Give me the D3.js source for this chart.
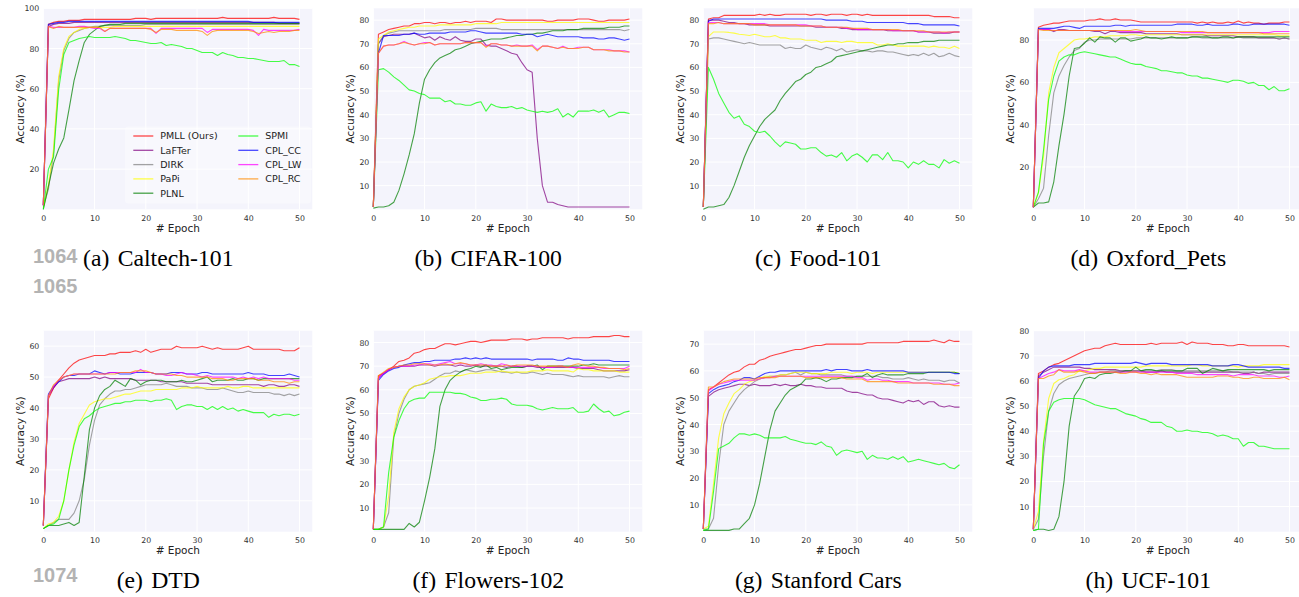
<!DOCTYPE html>
<html lang="en">
<head>
<meta charset="UTF-8">
<title>Accuracy per epoch</title>
<script src="https://cdn.jsdelivr.net/npm/d3@7"></script>
<style>
  body { margin: 0; background: #fff; }
  svg { display: block; font-family: 'DejaVu Sans', sans-serif; }
  .tick text { fill: #333; font-size: 7.8px; font-family: 'DejaVu Sans', sans-serif; }
  .axis-label { fill: #222; font-size: 10.5px; }
  .legend text { fill: #222; font-size: 9.5px; }
  .caption { font-family: 'Liberation Serif', 'Times New Roman', serif; font-size: 23.7px; fill: #000; }
  .lineno { font-family: 'Liberation Sans', Arial, sans-serif; font-weight: bold; font-size: 20px; fill: #b3b3b3; }
</style>
</head>
<body>
<svg id="chart" width="1299" height="597"></svg>
<script>
// ---- data: accuracy (%) per epoch 0..50, series in legend order ----
const methods = ['PMLL (Ours)', 'LaFTer', 'DIRK', 'PaPi', 'PLNL', 'SPMI', 'CPL_CC', 'CPL_LW', 'CPL_RC'];
const methodColors = ['#ff0000', '#800080', '#808080', '#ffff00', '#008000', '#00ff00', '#0000ff', '#ff00ff', '#ff8c00'];
const subLetters = ['(a)', '(b)', '(c)', '(d)', '(e)', '(f)', '(g)', '(h)'];
const datasetNames = ['Caltech-101', 'CIFAR-100', 'Food-101', 'Oxford_Pets', 'DTD', 'Flowers-102', 'Stanford Cars', 'UCF-101'];
const yMaxes = [100, 85, 85, 95, 65, 85, 75, 80];
const yTickSets = [
  [20, 40, 60, 80, 100],
  [10, 20, 30, 40, 50, 60, 70, 80],
  [10, 20, 30, 40, 50, 60, 70, 80],
  [20, 40, 60, 80],
  [10, 20, 30, 40, 50, 60],
  [10, 20, 30, 40, 50, 60, 70, 80],
  [10, 20, 30, 40, 50, 60, 70],
  [10, 20, 30, 40, 50, 60, 70, 80]
];
const xTickValues = [0, 10, 20, 30, 40, 50];
const lineNumbers = [['1064', 263], ['1065', 292.5], ['1074', 581.5]];

const caltechAcc = [
  [2,92,93,93.5,93.5,94,94,94,94.5,94.5, 94.5,94.5,94.5,94.5,94.5,94.5,94.5,94.5,95,95, 95,94.5,95,95,95,95,95,95,95,95, 95,95,95,95,95,95.5,95,95,95,95, 95,95,95,95,95,95.5,95,95,95,95, 94.5],
  [2,91,92,92.5,92.5,92.5,93,93,93,93, 93,93,93,93,93,93,93,93,93,93, 93,93,93,93,93,93,93,93,93,93, 93,93,93,93,93,93,93,93,93,93, 93,93,93,93,93,93,92.5,92.5,92.5,92.5, 92.5],
  [1,10,28,64,79,85,88,89,90,90.5, 91,91,91.5,91.5,91.5,91.5,91.5,91.5,91.5,91.5, 92,92,92,92,92,92,92,92,92,92, 92,92,92,92,92,92,92,92,92,92, 92,92,92,92,92,92,92,92,92,92, 92],
  [1,12,30,66,80,86,88,89.5,90,90.5, 90.5,90.5,90.5,90.5,91,91,91,91,91,91, 91,91,91,91,91,91,91,91,91,91, 91,91,91,91,91,91,91,91,91,91, 91,91,91,91,91,91,91,91,91,91, 91],
  [0,11.5,23,30,35.5,49.5,64,74,83,87, 89,91,91.5,92,92,92,92.5,92.5,92.5,92.5, 92.5,92.5,92.5,92.5,92.5,92.5,92.5,92.5,92.5,92.5, 92.5,92.5,92.5,92.5,92.5,92.5,92.5,92.5,92.5,92.5, 92.5,92.5,92.5,92.5,92.5,92.5,92.5,92.5,92.5,92.5, 92.5],
  [0,20,26,59.5,77,83,84,85,85.5,86, 85.5,85.5,85.5,85.5,86,85.5,85,84,84,83.5, 83,82.5,82.5,83,81.5,82,81.5,81,80,80, 79,78,78,78,76.5,78,77,76.5,75.5,75.5, 75,75,74.5,74,73.5,73.5,73.5,74,72,72, 71],
  [2,92,92.5,93,93,93.5,93.5,93.5,93.5,93.5, 93.5,93.5,93.5,93.5,93.5,93.5,93.5,93.5,93.5,93.5, 93.5,93.5,93.5,93.5,93.5,93.5,93.5,93.5,93.5,93.5, 93.5,93.5,93.5,93.5,93.5,93.5,93.5,93.5,93.5,93.5, 93.5,93,93,93,93,93,93,93,93,93, 93],
  [2,91,90.5,90.5,90.5,90.5,90.5,91,91,90.5, 90,90,88.5,90,90,90,90,90,90,90, 90,90,87.5,90,90,90,90,90,90,90, 90,90,88,89.5,89.5,89.5,89.5,89.5,89.5,89.5, 89.5,89,86.5,89.5,89,89,89,89,89,89, 89.5],
  [2,91,90,91,90.5,90.5,90.5,90.5,90.5,90.5, 90.5,90.5,88.5,90,90,90,90,90,90,90, 90,89.5,88,89.5,89.5,89.5,89,89,89,89, 89,88.5,86.5,88.5,89,89,89,89,89,89, 89,88.5,87.5,88,88.5,88,88.5,88.5,88.5,89, 89]
];

const cifarAcc = [
  [1,74,75,76,76.5,77,77.5,77.5,78.5,78.5, 79,79,78.5,79,79,78.5,79,79,79.5,79, 79.5,79.5,79.5,79,80.5,80.5,80,80,80,80, 80,80,80,80,79.5,79.5,80,80,80,80, 80.5,80.5,80.5,80,79.5,79.5,80,80,80,80, 80.5],
  [1,70,73,73.5,74,74,74,74,74.5,73.5, 72.5,73,71.5,73,72,71.5,73,71.5,71,71, 72,72,69.5,69,69,68,67,66,65.5,62, 59,58,30,10,3,3,2,1.5,1,1, 1,1,1,1,1,1,1,1,1,1, 1],
  [1,70,73.5,74.5,75,75.5,75.5,75.5,75.5,75.5, 75.5,75.5,75.5,75.5,76,76,76,76,76,76, 76.5,76.5,76.5,76.5,76.5,76,76,76,76,76, 76,76,76,76,76,76,76,76,76,76, 76,76,76,76,76,76,76,76,76,75.5, 76],
  [1,72,73.5,75,75.5,76,76.5,77,77,77.5, 77.5,77.5,77.5,78,78,78,78,78,78,78, 78.5,78.5,78.5,78.5,78.5,79,79,79,79,79, 79,79,79,79,79,79,79,79,79,79, 79,79,79,79,79,79,79,79,79,79, 79],
  [0.5,1,1,1.5,3,8,15,23,32,45, 55,59,62,64,65,66,67.5,68,69,70, 70.5,71,71.5,72,72,72,72.5,73,73.5,73.5, 74,74,74.5,74.5,75,75.5,75.5,75.5,76,76, 76,76.5,76.5,76.5,76.5,76.5,77,77,77,77.5, 77.5],
  [1,59,59.5,58,56,54.5,52.5,50.5,50,49, 48.5,47,47,47,45.5,46,44.5,44.5,44,44, 45,45.5,41.5,44.5,43.5,43,43,43.5,42.5,43, 42,41.5,41,41.5,41,41.5,42.5,39,40.5,39, 41.5,41.5,41.5,42,41,42,39,40,41,41, 40.5],
  [1,66,73.5,73.5,73.5,73.5,74,74,74.5,74, 74,74.5,74.5,74.5,74.5,75,75,75,75,75.5, 75.5,75,74.5,74.5,74.5,74.5,74.5,74.5,74.5,74, 74,74,73,73.5,74,73.5,73,73,73,73, 73,72.5,72.5,72.5,72,72,72.5,72.5,72,71.5, 72],
  [1,66,69,69.5,69.5,70,71,70,69.5,70, 70.5,70.5,69.5,70,70,70,70,70,70.5,70.5, 70.5,70.5,69,70,70,69.5,69.5,69,69.5,69, 69,69.5,67.5,69,69,68.5,68,69,68,68, 68.5,68.5,68.5,67.5,67.5,67.5,67.5,67,67,67, 66.5],
  [1,66,69,69.5,69.5,70,70.5,70,69.5,70, 70,70.5,69.5,70,70,70,70,70,70.5,70.5, 70.5,70.5,68.5,70,70,69.5,69.5,69,69,69, 69,69,67,69,69,68.5,68,68.5,68,68, 68,68.5,68.5,67.5,67.5,67.5,67,67,67,66.5, 66.5]
];

const foodAcc = [
  [1,80.5,81,81,82,82,82,82,82,82, 82,82.5,82,82.5,82,82,82.5,82.5,82.5,82.5, 82.5,82,82.5,82.5,82,82.5,82.5,82.5,82,82.5, 82.5,82,82.5,82,82,82,82,82,82,82, 82,82,82,82,82,81.5,81.5,81.5,81.5,81, 81],
  [1,80,80,80,79.5,79,79,78.5,78.5,78, 78,78,78,77.5,77.5,77.5,77.5,77.5,77.5,77.5, 77.5,77.5,77,77,77,77,77,76.5,76.5,76, 76,76,76,76,76,76,75.5,75.5,75.5,75.5, 75.5,75.5,75,75,75,74.5,74.5,74.5,74.5,75, 75],
  [1,72,72.5,72.5,72,71.5,71,70.5,70,70.5, 70,69.5,69.5,69.5,69.5,69.5,68,68.5,68,68, 69.5,68.5,68,67.5,68.5,68,67,68,66.5,67, 67.5,67,67,66.5,67,67,66.5,66.5,66,65.5, 65,65.5,65,66,65,66,64.5,65,66,65, 64.5],
  [1,73,75,75,75,74.8,74.5,74,73.8,73.5, 74,73.5,73,73,73.5,72.5,72.5,72,72,72, 71.5,71.5,71.5,70.5,71,71,71,70.5,71,71, 70.5,70.5,70.5,70.5,69.5,69.5,70,69.5,69,69, 69,69,69,69,68.5,69,68.5,68.5,68,69, 68],
  [0,1,1,1.5,2,5,10,16,22,27, 31,35,38,40,42,46,49,51.5,54,55, 57,58,60,60.5,61.5,62.5,64.5,65,65.5,66, 66.5,67,67.5,68,68.5,69,69.5,69.5,70,70, 70.5,70.5,70.5,71,71,71,71.5,71.5,71.5,71.5, 71.5],
  [1,60,55,49,45,41,38.5,39.5,36,35, 33,32.5,33,31,28.5,26.5,28.5,28,27.5,25.5, 25.5,26,26,24,22.5,23,22,24,20.5,22.5, 23.5,22,20,23,23,21,24,20.5,20.5,20, 17.5,20,19,20.5,19,19,17.5,21,19.5,20.5, 19.5],
  [1,79.5,80.5,80.5,80.5,80.5,80.5,80.5,80.5,80.5, 80.5,80.5,80.5,80.5,80.5,80.5,80.5,80.5,80.5,80.5, 80.5,80.5,80.5,80.5,80,80,80,80,80,79.5, 79.5,79.5,79,79,79,79,79,79,79,79, 78.5,78.5,78.5,78,78,78,78,78,78,78, 77.5],
  [1,79,79,79,78.5,78.5,78.5,78.5,78.5,78.5, 78.5,78.5,78.5,78,78,78,78,78,78,78, 78,77.5,77.5,77.5,77,77,77,77,76.5,76.5, 76,76,76,76,76,76,76,75.5,75.5,75.5, 75.5,75.5,75,75,75,75,75,74.5,75,75, 75],
  [1,78.5,78.5,79,78.5,78.5,78.5,78.5,78.5,78.5, 78,78,78,78,78,78,78,78,78,77.5, 77.5,77.5,77.5,77.5,77,77,77,77,77,76.5, 76.5,76.5,76.5,76,76,76,76,76,76,75.5, 75.5,75.5,75.5,75.5,75,75,75,75,75,75, 75]
];

const petsAcc = [
  [1,86,87,87.5,88,88,88.5,89,89,89, 89,89.5,89.5,90,89.5,89.5,90,89.5,89.5,89.5, 89,88.5,88.5,88.5,88.5,88.5,88.5,88.5,88.5,88.5, 88.5,88.5,88,88.5,88,88.5,88,88,88.5,88, 89,88,88.5,88,88,87.5,88,88,88,88.5, 88.5],
  [1,85,85,85,84,85,85,84.5,84.5,84.5, 84.5,84.5,84,84,83,84,84,83.5,83.5,83.5, 83.5,83.5,83,83,83,83,83,83,83,82.5, 82.5,82.5,82.5,82.5,82,82,82,82,82,82, 81.5,81.5,81.5,81.5,81,81,81,81,80.5,81, 80.5],
  [1,5,10,35,55,63,68,72,75,76, 79,80,80,80.5,80.5,80.5,80.5,80.5,80.5,80.5, 81,81,81,81,81,81,81,81,81,81, 81,81.5,81.5,81,81,81,81,81,81,81, 81.5,81,81,81,81,81,81,81,80.5,81, 80.5],
  [1,8,25,55,67,74,76,78,80,80.5, 80.5,81,81.5,81.5,81.5,82,82,82,82,82.5, 82.5,82,82.5,82.5,82.5,82.5,82.5,82.5,82.5,82.5, 82.5,82.5,82.5,82.5,82.5,82.5,82.5,82.5,82.5,82.5, 82.5,82.5,82.5,82.5,82.5,82.5,82.5,82.5,82,82, 82],
  [1,3,3,3.5,13,30,45,63,76,76.5, 78.5,81,79,81.5,81,81,79,81,81,79.5, 80,80.5,81.5,81,81,80.5,81,81.5,81,81, 81,81.5,81.5,81.5,81.5,81,81,81.5,81.5,81, 81.5,81.5,81.5,81.5,81.5,81.5,81.5,81.5,81.5,81.5, 81.5],
  [1,8,28,52,63,70,72,73,73,74, 74.5,74,73.5,73,72.5,72,72,71,70,69, 68.5,68.5,67.5,67,66.5,65.5,65.5,65,64.5,64.5, 63.5,63,63,62,62,61.5,61,60.5,60,61, 61,60.5,59.5,60,58.5,58.5,56.5,58,56,56, 57],
  [1,85.5,85.5,85.5,85.5,86,86.5,86.5,86,85.5, 86.5,86.5,86.5,86.5,86.5,86.5,87,87,86.5,87, 87,87,87,87,87,87,87,87,87.5,87.5, 87.5,87.5,87,87,87.5,87,87,87,87,87.5, 87.5,87,87,87.5,87.5,87.5,87.5,87.5,87.5,87.5, 87],
  [1,85,85,85,84.5,84.5,84.5,84.5,84.5,84.5, 84.5,84.5,84.5,84.5,84.5,84.5,84.5,84,84,84, 84,84,84,84,84,84,84,84,84,83.5, 83.5,83.5,83.5,83.5,83.5,83.5,83.5,83.5,83.5,83.5, 83.5,83.5,83.5,83.5,83.5,83.5,83.5,84,84,84, 84],
  [1,85,84.5,84.5,84.5,84.5,84.5,84.5,84.5,84.5, 84.5,84.5,84.5,84.5,84.5,84.5,84.5,84.5,84.5,84.5, 85,84.5,84,84,84,84,84,84,84,84, 84,84,84,84,83.5,83.5,83.5,83.5,83.5,83.5, 83.5,83.5,83.5,83.5,83.5,83,83,83,83,83, 83]
];

const dtdAcc = [
  [2,43,46.5,49,51,53,54.5,55.5,56,56.5, 57,57,57,57.5,57.5,58,58,58,58.5,58, 59,58,58.5,59,59,59,60,59.5,59.5,59.5, 59.5,60,59.5,59,59.5,59,59,59,59,59.5, 60,59,59,59,59,59,59,58.5,58.5,58.5, 59.5],
  [2,44,46.5,48.5,49,49.5,49.5,49.5,49.5,49.5, 50,49.5,50,49.5,49.5,49.5,49.5,49.5,49,49, 49,49,49,48.5,48.5,48.5,48.5,48.5,48,48, 48,48,48,47.5,47.5,47.5,47.5,47.5,47.5,47.5, 47.5,47.5,47.5,47,47.5,47.5,47,47,47.5,47.5, 47],
  [1,2,3,4,4,4,6,10,17,28, 36,41,43,44.5,45.5,45.5,46,46,46.5,47, 47.5,47.5,47.5,47.5,48,47.5,47,47,47,46.5, 46.5,46.5,46,46,46,46.5,46,45.5,45,45, 45.5,45,45,45,45,44.5,44.5,44,44.5,44, 44.5],
  [1,2.5,3,5,10,20,29,35,38,41, 42,42.5,43,43,43.5,44,44.5,44.5,45,45.5, 45.5,45.5,46,46,46,46,46,46.5,46.5,46.5, 47,46.5,46.5,46.5,46.5,46.5,47,46.5,46.5,47, 47,46.5,46.5,46.5,46.5,46.5,46.5,46.5,46.5,46.5, 46.5],
  [1,2,2,2,2.5,3,2,3,18,33, 40,44,46,47,49,48,47,49.5,49,47.5, 48.5,49,49,49,48.5,48.5,48.5,49,48.5,48.5, 49,49.5,50,48.5,49,49,49,49.5,49,49, 49.5,49.5,49,49.5,49.5,49.5,49.5,49.5,49.5,49.5, 49.5],
  [1,2,2.5,4,10,20,28,34,36.5,37.5, 39,40,40.5,41,41.5,41.5,42,42,42.5,42.5, 42.5,42,42.5,42.5,43,42.5,39.5,40.5,41,41, 40.5,40.5,39.5,40.5,39.5,40.5,39.5,40,39,39.5, 39,38.5,38.5,38.5,37,38,37.5,38,38,37.5, 38],
  [2,44.5,47,48.5,50,50.5,50.5,51,51,51, 52,51.5,51,51.5,51.5,51,51,51,51.5,51.5, 51.5,51.5,51,51,51,51.5,51.5,51.5,51,51, 51,51.5,51.5,51,51,51,51,51,51,51, 51.5,51,51,51,50.5,50.5,50.5,50.5,51,50.5, 50],
  [2,44,47,49,50,50.5,51,51,51,51, 51,51,51,51.5,51.5,51.5,51.5,51.5,51.5,52.5, 51.5,51.5,51,51,50.5,50.5,51,51.5,51,51, 50.5,50,50.5,50,50,50,50,50,49.5,50, 49.5,50,49.5,50,49.5,49.5,49.5,49.5,49.5,49, 49],
  [2,44,47.5,49,50,50.5,51,51,51,51, 51,51,51,51,51,51.5,51.5,51.5,52,52, 52,51.5,51,51,51,51,50.5,50.5,50,50, 50,50,50,49.5,49.5,49.5,49,49,49.5,49.5, 49.5,49.5,49,49,49,48.5,48.5,48.5,48,48.5, 48.5]
];

const flowersAcc = [
  [1,66,67,68.5,70,72,72.5,73.5,75.5,76, 77,77.5,77.5,78.5,79.5,79.5,79,79.5,80,80.5, 80.5,80,80.5,81,81,81,81,81.5,81.5,81.5, 81,81.5,81.5,82,82,82,82,82,81.5,82, 82,82,82,82.5,82.5,82.5,82.5,83,83,82.5, 82.5],
  [1,65,67,68.5,69.5,70,70,70,70,70.5, 70.5,70.5,70,70.5,70.5,70.5,70,70.5,70,70, 70.5,70,70,70,70,70,69.5,70,70,69.5, 70,70,69.5,69.5,69.5,69.5,69.5,69.5,69.5,69.5, 69,69,69,69,68.5,68,68,68,68,68, 68.5],
  [1,1,2,8,40,50,56,60,61.5,62, 62.5,63,64.5,66,67,67,68,67.5,68.5,68, 67.5,68,68.5,68.5,68,67.5,67.5,67,67.5,67, 67,67.5,67,66.5,67,66.5,66.5,66.5,66,65.5, 66,65.5,65.5,65.5,65.5,65.5,65,65.5,66,65.5, 65.5],
  [1,1,2,15,42,52,57,60,61.5,62, 63,64.5,65,65.5,65.5,66,66,66,66.5,67, 67,67,67.5,67.5,67.5,68,67.5,67.5,67.5,67.5, 67.5,68,68,68,68.5,68,68,68,68,67.5, 69,68.5,68.5,68,68,68,68,68,67.5,67.5, 67.5],
  [1,1,1,1,1,1,1,3.5,2,4, 13,23,35,53,60,64,66,67.5,68.5,69, 70,69.5,70.5,69,69.5,68.5,69,69.5,69.5,69.5, 70,70,70.5,68.5,70,70,70,70,70,70, 70,70.5,70.5,71,70.5,70.5,70.5,70.5,70.5,70.5, 70.5],
  [1,1,2,25,40,47,52,55,56,56.5, 56.5,59,59,59,59,59,58.5,58.5,58,57, 56.5,55.5,55.5,56,56,56.5,56,54,53.5,53.5, 53.5,53,52,51.5,52,52.5,52,52,52,52.5, 50.5,50.5,51,54,52,50.5,51,49,49.5,50.5, 51],
  [1,64,66.5,68,69,69.5,70.5,71,71.5,71.5, 72,72,72.5,72.5,72.5,72.5,73,73,73.5,73, 73.5,73,73.5,73,73,73,73,73,73,73, 73,72.5,73,73,73,73,72.5,72.5,73.5,73, 73,72.5,72.5,72.5,72.5,72.5,72.5,72,72,72, 72],
  [1,65,67,68.5,69.5,70,70,70,70.5,70.5, 71,71,70.5,71,71.5,72,71,71,71,70.5, 70.5,71,70.5,70.5,70,71,70.5,70,70,70, 70,70,70,69.5,69.5,69.5,70,70,69.5,69.5, 69.5,69.5,69.5,69.5,69.5,69,69,69,69,69, 70],
  [1,66,67.5,69,69.5,70,70.5,70.5,71,71, 71,70.5,70.5,70.5,71,70.5,71,71.5,71,70.5, 70.5,70.5,70.5,70,70,70,70.5,70,70.5,70.5, 70.5,70.5,70,70,70,70,70,70,69.5,70.5, 71,70.5,70,70,69.5,69.5,69,69,69,68.5, 69]
];

const carsAcc = [
  [1,53,54,55.5,57,58.5,59.5,60,61.5,62.5, 62.5,64,64.5,65.5,66,66.5,67,67.5,68,68, 68.5,69,69.5,69.5,70,70,70,70,70,70, 70,70,70.5,70.5,70.5,70.5,70.5,70.5,70.5,71, 71,71,71,71,71,71.5,71,70.5,71.5,71, 71],
  [1,50.5,52,53,53.5,54,54.5,55,55,54.5, 55,54.5,54.5,54.5,55,54.5,55,54.5,54.5,55, 54.5,54.5,54,54,53.5,53.5,53.5,53.5,52.5,52, 52,51.5,51,51,50,49.5,49.5,49,48.5,48, 49,48.5,49,47.5,48.5,48.5,47,46.5,47,46.5, 46.5],
  [1,1,5,25,40,45,48,51,53,54.5, 56,57,57.5,58,58,58.5,58.5,59,59.5,58.5, 59.5,59,59,58.5,58.5,58.5,58.5,58.5,58,58, 58,58,58,58,58,57.5,57.5,57,57,57, 57.5,57,56.5,57,56.5,56.5,56.5,56,56.5,56.5, 55.5],
  [1,2,18,35,44,48,51.5,53,55,56, 56.5,57,58,58,58,58.5,58.5,59,59.5,59.5, 59.5,59,59,59,59,59.5,59.5,59.5,59.5,59, 59.5,59.5,59.5,59,59.5,59.5,59.5,59.5,59.5,59.5, 59.5,59.5,59.5,59.5,59.5,59.5,59.5,59.5,59.5,59.5, 59],
  [0.5,0.5,0.5,0.5,0.5,0.5,1,1,3,5, 10,18,28,38,45,48,51,53,54,55, 57,57,57.5,57,56,57,57,57.5,57.5,57.5, 58,58,59,57.5,58.5,59,58.5,58.5,58.5,58.5, 59,59,59,59,59.5,59.5,59.5,59.5,59.5,59.5, 59],
  [0.5,1,15,31,32,33,35,36.5,36.5,36, 36.5,36,35,35,35,35,35.5,34.5,34,33.5, 33,33,32.5,33.5,32,31.5,28.5,30,30.5,30, 29.5,30,27,28.5,27.5,27.5,27,28,27,28, 26,26.5,27,26.5,26,25.5,25,25.5,24,23.5, 25],
  [1,51.5,53,54,54.5,55,56,56.5,57.5,57.5, 57,58,59,59.5,59.5,60,60,60,60,60, 60,60,60,60,60.5,60,60.5,60.5,60.5,60, 60,60,60.5,60,60,60,60,60,60,60, 59.5,59.5,59.5,59.5,59.5,59.5,59.5,59.5,59.5,59, 59],
  [1,52.5,54,55,55.5,56,56.5,56.5,56.5,56.5, 56.5,57,57.5,57.5,58,58,58,58,58,58, 58,58,58,58,58,58,58,58,58,58, 57.5,57.5,56.5,57,57,56.5,56.5,56,56,56, 56,55.5,55.5,55.5,55.5,55.5,55.5,55,55,55, 55.5],
  [1,54,54,55,56,56.5,57,57,57,57, 57,57.5,57.5,57.5,57.5,58,58,58,58,58, 57.5,57.5,57.5,57.5,57.5,57.5,57.5,57.5,57,57, 57,57,56,56,56,56,56,56,55.5,55.5, 55.5,55.5,55.5,55.5,55.5,55,55,55,55,54.5, 54.5]
];

const ucfAcc = [
  [1,63,64,65.5,66.5,67,68,69,70,71, 72,72.5,73,73,74,74.5,75,74.5,74.5,74.5, 74.5,74.5,74.5,75,74.5,75,75,75,75,75.5, 74.5,75.5,75,75,75,74.5,74.5,74.5,74,74, 74.5,74.5,74,74,74,74,74,74,74,74, 73.5],
  [1,62,63.5,64.5,65.5,65.5,65.5,65.5,65.5,65.5, 65,65,64.5,64.5,64.5,64.5,64.5,64,64,64, 64,64,63.5,63.5,63.5,64,63.5,63.5,63.5,63.5, 63.5,63.5,63.5,63.5,63.5,63.5,63.5,63.5,63.5,63.5, 63.5,63,63,63.5,63,63.5,63.5,63.5,63.5,63.5, 63.5],
  [1,5,30,48,55,58.5,60,61,61.5,62, 62.5,63,63,63.5,63.5,64,64,64,64,64, 64,64,64,64,64,64.5,64.5,64.5,64,64, 64,64,64,64,64,64,64,64,64,63.5, 63.5,63.5,63.5,63.5,63,63,62.5,63,63,63, 63],
  [1,8,36,53,59,60.5,61,62,62.5,64, 64,64.5,65,65,65.5,65.5,65.5,65.5,65.5,65.5, 65.5,65.5,66,66,66,66,66,66,66,66, 66,66.5,66.5,66,66,66,66,66,66,66, 65.5,66,66,66,66,66.5,66.5,66.5,66.5,66.5, 66.5],
  [0.5,1,1,0.5,1,6,20,42,54,57, 61,61.5,61,62.5,63,63,63.5,63.5,64,64, 65.5,64,64.5,64.5,64,64,64,64,64,64, 65,65,65,63,64,65,64.5,64,64.5,64.5, 64.5,64.5,64.5,64.5,64.5,64.5,64,64.5,64.5,64.5, 64.5],
  [0.5,1,35,48,51.5,52.5,53,53,53,53, 52.5,51.5,50.5,50,49.5,49,49,48,47,46.5, 46,45,44.5,43.5,43.5,43.5,42,41.5,40,40, 40.5,40,40,39.5,39.5,39,38,38.5,38,37, 37,34,35.5,35.5,34,34,33.5,33,33,33, 33],
  [1,61,64,65.5,66,66,66,66,66.5,66.5, 66.5,66.5,67,67,67,67,67,67,67,67, 67.5,67,66.5,67,67,67,67,66.5,66.5,66.5, 66.5,66.5,66.5,66.5,66.5,66,66,66,66,66.5, 66.5,66,65.5,65.5,65.5,65.5,65.5,65.5,65.5,65, 65],
  [1,61,62,63,63.5,64.5,64,64,64,64.5, 64,63.5,63.5,63.5,63.5,63.5,63.5,63.5,63.5,63.5, 63.5,63.5,63.5,63.5,63.5,63.5,63.5,63.5,63,63, 63,63,62.5,62.5,62.5,62.5,62.5,62.5,62.5,62, 62.5,62.5,62.5,62.5,62,62,62,62,61.5,61.5, 62],
  [1,61,61,62,62.5,64.5,63.5,63.5,63.5,64, 63.5,63,63,63.5,63.5,63.5,63.5,63,63,63.5, 63.5,63,63,62.5,63,62.5,62.5,62.5,62.5,62, 61.5,61.5,61.5,61.5,61.5,61.5,62,62,62,61.5, 61.5,61,61,61.5,61.5,61,61,61,61,61.5, 60.5]
];

const panelData = [caltechAcc, cifarAcc, foodAcc, petsAcc, dtdAcc, flowersAcc, carsAcc, ucfAcc];

// ---- layout ----
const colOffsets = [0, 330, 660, 990];
const rowOffsets = [0, 322.4];
const plot = { left: 43.3, right: 312.3, top: 8.3, bottom: 209.3 };
const bgColor = '#f4f4fc';

const svg = d3.select('#chart');
svg.append('rect').attr('width', 1299).attr('height', 597).attr('fill', '#fff');

const badLengths = [];

panelData.forEach((series, i) => {
  const col = i % 4, row = Math.floor(i / 4);
  const g = svg.append('g')
    .attr('transform', `translate(${colOffsets[col]},${rowOffsets[row]})`);

  const x = d3.scaleLinear().domain([0, 52.5]).range([plot.left, plot.right]);
  const y = d3.scaleLinear().domain([0, yMaxes[i]]).range([plot.bottom, plot.top]);

  g.append('rect')
    .attr('x', plot.left).attr('y', plot.top)
    .attr('width', plot.right - plot.left).attr('height', plot.bottom - plot.top)
    .attr('fill', bgColor);

  // white grid
  g.append('g').selectAll('line').data(xTickValues).join('line')
    .attr('x1', d => x(d)).attr('x2', d => x(d))
    .attr('y1', plot.top).attr('y2', plot.bottom)
    .attr('stroke', '#fff').attr('stroke-width', 1);
  g.append('g').selectAll('line').data(yTickSets[i]).join('line')
    .attr('x1', plot.left).attr('x2', plot.right)
    .attr('y1', d => y(d)).attr('y2', d => y(d))
    .attr('stroke', '#fff').attr('stroke-width', 1);

  // curves
  const line = d3.line().x((d, j) => x(j)).y(d => y(d));
  series.forEach((s, k) => {
    if (s.length !== 51) badLengths.push(`${datasetNames[i]} ${methods[k]}: ${s.length}`);
    g.append('path')
      .datum(s)
      .attr('d', line)
      .attr('fill', 'none')
      .attr('stroke', methodColors[k])
      .attr('stroke-opacity', 0.72)
      .attr('stroke-width', 1.1)
      .attr('stroke-linejoin', 'round');
  });

  // axes (no tick marks, no spines)
  const yAxis = g.append('g')
    .attr('transform', `translate(${plot.left},0)`)
    .call(d3.axisLeft(y).tickValues(yTickSets[i]).tickSize(0).tickPadding(4));
  yAxis.select('.domain').remove();
  const xAxis = g.append('g')
    .attr('transform', `translate(0,${plot.bottom})`)
    .call(d3.axisBottom(x).tickValues(xTickValues).tickSize(0).tickPadding(6));
  xAxis.select('.domain').remove();

  g.append('text').attr('class', 'axis-label')
    .attr('transform', `translate(24,${(plot.top + plot.bottom) / 2}) rotate(-90)`)
    .attr('text-anchor', 'middle')
    .text('Accuracy (%)');
  g.append('text').attr('class', 'axis-label')
    .attr('x', (plot.left + plot.right) / 2).attr('y', 231.5)
    .attr('text-anchor', 'middle')
    .text('# Epoch');

  // sub-caption
  const cap = g.append('text').attr('class', 'caption')
    .attr('x', 158.3).attr('y', 265.5)
    .attr('text-anchor', 'middle');
  cap.append('tspan').text(subLetters[i]);
  cap.append('tspan').attr('dx', 8.3).text(datasetNames[i]);

  // legend only in first panel
  if (i === 0) {
    const lg = g.append('g').attr('class', 'legend');
    lg.append('rect')
      .attr('x', 125).attr('y', 126.5).attr('width', 186).attr('height', 77).attr('rx', 3)
      .attr('fill', '#fff').attr('fill-opacity', 0.35);
    methods.forEach((m, k) => {
      const c = k < 5 ? 0 : 1;
      const r = k < 5 ? k : k - 5;
      const lx = c === 0 ? 133.3 : 238.3;
      const ly = 136 + r * 14.3;
      lg.append('line')
        .attr('x1', lx).attr('x2', lx + 20).attr('y1', ly).attr('y2', ly)
        .attr('stroke', methodColors[k]).attr('stroke-opacity', 0.72).attr('stroke-width', 1.3);
      lg.append('text').attr('x', lx + 27).attr('y', ly + 3.4).text(m);
    });
  }
});

// review line numbers from the page margin
svg.selectAll('text.lineno').data(lineNumbers).join('text')
  .attr('class', 'lineno')
  .attr('x', 33).attr('y', d => d[1])
  .text(d => d[0]);

if (badLengths.length) throw new Error('bad series length: ' + badLengths.join('; '));
</script>
</body>
</html>
